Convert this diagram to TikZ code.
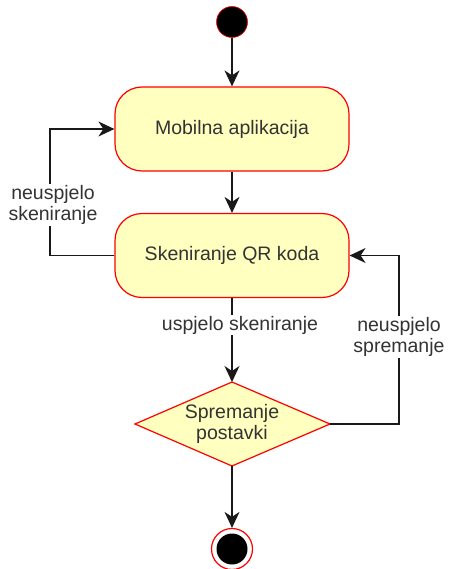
\documentclass[tikz,border=0pt]{standalone}
\usepackage{fontspec}
\setmainfont{Liberation Sans}
\usetikzlibrary{shapes.geometric,arrows.meta}
\definecolor{fillY}{HTML}{FFFFC0}
\definecolor{strokeR}{HTML}{FF0000}
\definecolor{txt}{HTML}{333333}
\begin{document}
\begin{tikzpicture}[x=1pt,y=-1pt,
  every node/.style={font=\fontsize{19.5}{21.5}\selectfont,text=txt},
  state/.style={draw=strokeR,fill=fillY,line width=1.2pt,rounded corners=27pt,minimum width=234pt,minimum height=84pt,inner sep=0pt},
  conn/.style={draw=black!90,line width=1.3pt,-{Stealth[length=16pt,width=15pt,inset=5pt]}},
  lbl/.style={fill=white,align=center,inner sep=1pt}]
\useasboundingbox (0,0) rectangle (448,569);
\node[circle,fill=black,draw=strokeR,line width=0.6pt,minimum size=31pt,inner sep=0pt] (start) at (232,22) {};
\node[state] (mob) at (232,129) {Mobilna aplikacija};
\node[state] (sken) at (232,255.5) {Skeniranje QR koda};
\path[draw=strokeR,fill=fillY,line width=1.2pt] (135,424) -- (232,382) -- (330,424) -- (232,466) -- cycle;
\node[align=center] (spr) at (232,424) {Spremanje\\postavki};
\coordinate (dE) at (330,424);
\coordinate (dN) at (232,382);
\coordinate (dS) at (232,466);
\node[circle,draw=strokeR,line width=1.2pt,minimum size=41pt,inner sep=0pt,fill=white] (endo) at (232,549) {};
\node[circle,fill=black,minimum size=31pt,inner sep=0pt] (endi) at (232,549) {};
\coordinate (L) at (50,129);
\coordinate (R) at (399,255.5);
\draw[conn] (start) -- (mob);
\draw[conn] (mob) -- (sken);
\draw[conn] (sken.west) -| (L) -- (mob.west);
\draw[conn] (sken.south) -- (dN);
\draw[conn] (dE) -| (R) -- (sken.east);
\draw[conn] (dS) -- (endo);
\node[lbl] (l1) at (53,205) {neuspjelo\\skeniranje};
\node[lbl] (l2) at (240,325) {uspjelo skeniranje};
\node[lbl] (l3) at (399,337) {neuspjelo\\spremanje};
\end{tikzpicture}
\end{document}
